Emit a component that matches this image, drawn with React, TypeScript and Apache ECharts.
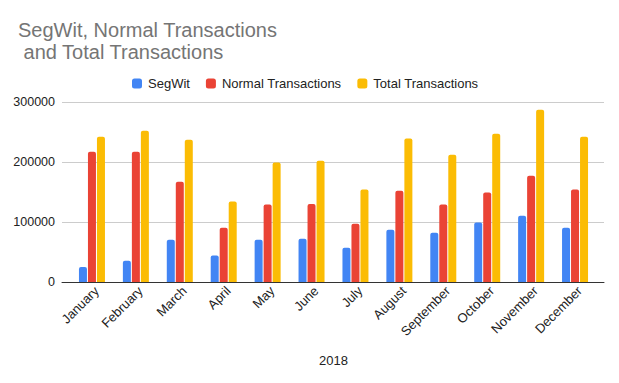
import React, { useEffect, useRef } from "react";
import * as echarts from "echarts";

const months = ["January", "February", "March", "April", "May", "June", "July", "August", "September", "October", "November", "December"];
const segwit = [25000, 35500, 70500, 44000, 70500, 72000, 57000, 87000, 82000, 99000, 110500, 90500];
const normalTx = [217000, 217000, 167000, 90500, 129000, 130000, 97000, 152000, 129000, 149000, 177000, 154000];
const totalTx = [242000, 252000, 237000, 134000, 199000, 202000, 154000, 239000, 212000, 247000, 287000, 242000];
const yTicks = { min: 0, max: 300000, interval: 100000 };

const FONT = "'Liberation Sans', Arial, sans-serif";

export default function App() {
  const ref = useRef<HTMLDivElement>(null);
  useEffect(() => {
    if (!ref.current) return;
    const chart = echarts.init(ref.current, null, { renderer: "svg" });
    const bar = (name: string, data: number[], color: string) => ({
      name,
      type: "bar",
      xAxisIndex: 1,
      yAxisIndex: 1,
      data,
      barWidth: 8,
      barGap: "12.5%",
      itemStyle: { color, borderRadius: [2, 2, 0, 0] },
    });
    chart.setOption({
      animation: false,
      textStyle: { fontFamily: FONT },
      title: {
        text: "SegWit, Normal Transactions\n and Total Transactions",
        left: 13,
        top: 14,
        textStyle: { fontSize: 20, fontWeight: "normal", color: "#757575", fontFamily: FONT, lineHeight: 22 },
      },
      legend: {
        top: 72,
        left: 127,
        itemWidth: 10,
        itemHeight: 10,
        itemGap: 16,
        icon: "roundRect",
        textStyle: { fontSize: 13, color: "#222", fontFamily: FONT, padding: [0, 0, 0, 1] },
        data: ["SegWit", "Normal Transactions", "Total Transactions"],
      },
      grid: [
        { left: 62, right: 15, top: 102, height: 180 },
        { left: 70, right: 22, top: 102, height: 180 },
      ],
      xAxis: [
        {
          type: "category",
          gridIndex: 0,
          data: [""],
          axisLine: { show: true, lineStyle: { color: "#333", width: 1 } },
          axisTick: { show: false },
          axisLabel: { show: false },
        },
        {
          type: "category",
          gridIndex: 1,
          data: months,
          axisLine: { show: false },
          axisTick: { show: false },
          axisLabel: { rotate: 45, fontSize: 13, color: "#222", margin: 2, verticalAlign: "top", fontFamily: FONT, interval: 0 },
          name: "2018",
          nameLocation: "middle",
          nameGap: 72,
          nameTextStyle: { fontSize: 13, color: "#222", fontFamily: FONT },
        },
      ],
      yAxis: [
        {
          type: "value",
          gridIndex: 0,
          ...yTicks,
          axisLine: { show: false },
          axisTick: { show: false },
          axisLabel: { fontSize: 12.5, color: "#222", margin: 7, fontFamily: FONT, formatter: (v: number) => String(v) },
          splitLine: { lineStyle: { color: "#ccc" } },
        },
        {
          type: "value",
          gridIndex: 1,
          ...yTicks,
          show: false,
          splitLine: { show: false },
        },
      ],
      series: [
        bar("SegWit", segwit, "#4285F4"),
        bar("Normal Transactions", normalTx, "#EA4335"),
        bar("Total Transactions", totalTx, "#FBBC04"),
      ],
    });
    return () => chart.dispose();
  }, []);
  return <div ref={ref} style={{ position: "fixed", left: 0, top: 0, width: 619, height: 383, background: "#fff" }} />;
}
